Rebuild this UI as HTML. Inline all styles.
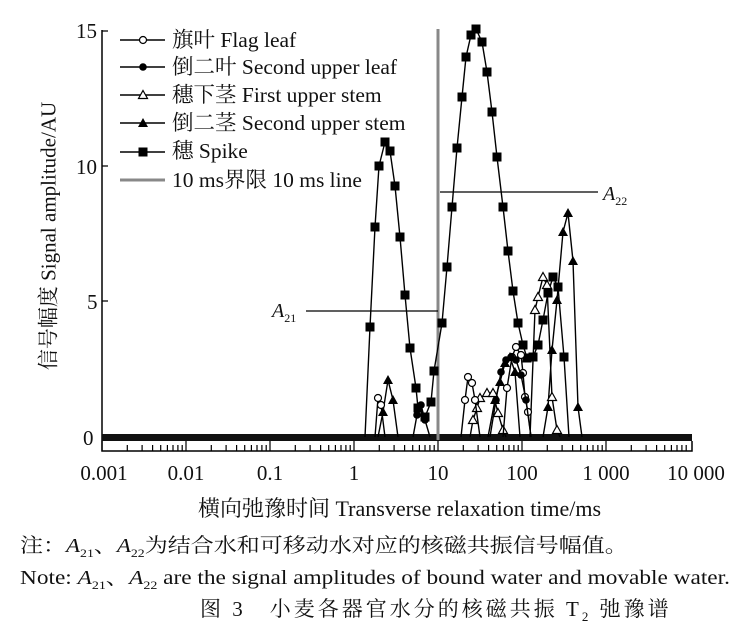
<!DOCTYPE html>
<html><head><meta charset="utf-8"><style>
body{margin:0;background:#fff;width:752px;height:639px;overflow:hidden;position:relative;font-family:"Liberation Serif","Noto Serif CJK SC",serif;color:#111}
.t{position:absolute;white-space:nowrap;line-height:1}
.lg{font-size:21.5px;left:172px}
.tk{font-size:21px;top:463px;transform:translateX(-50%)}
</style></head><body>
<svg width="752" height="639" style="position:absolute;left:0;top:0" xmlns="http://www.w3.org/2000/svg">
<defs>
<marker id="oc" markerUnits="userSpaceOnUse" markerWidth="10" markerHeight="10" refX="5" refY="5"><circle cx="5" cy="5" r="3.5" fill="#fff" stroke="#000" stroke-width="1.2"/></marker>
<marker id="fc" markerUnits="userSpaceOnUse" markerWidth="10" markerHeight="10" refX="5" refY="5"><circle cx="5" cy="5" r="3.8" fill="#000"/></marker>
<marker id="ot" markerUnits="userSpaceOnUse" markerWidth="12" markerHeight="12" refX="6" refY="6"><path d="M6 1.5 L10.5 9.5 L1.5 9.5Z" fill="#fff" stroke="#000" stroke-width="1.2"/></marker>
<marker id="ft" markerUnits="userSpaceOnUse" markerWidth="12" markerHeight="12" refX="6" refY="6"><path d="M6 1 L11 10 L1 10Z" fill="#000"/></marker>
<marker id="sq" markerUnits="userSpaceOnUse" markerWidth="10" markerHeight="10" refX="5" refY="5"><rect x="0.5" y="0.5" width="9" height="9" fill="#000"/></marker>
<g id="dec" stroke="#000" stroke-width="1.2">
<path d="M0 451v-10M25.3 451v-6M40.1 451v-6M50.6 451v-6M58.7 451v-6M65.4 451v-6M71 451v-6M75.9 451v-6M80.2 451v-6"/>
</g>
</defs>
<path d="M102 30V451H692V441" fill="none" stroke="#000" stroke-width="1.5"/>
<path d="M102 437h6M102 301h6M102 166h6M102 31h6" stroke="#000" stroke-width="1.3"/>
<use href="#dec" x="102"/><use href="#dec" x="186"/><use href="#dec" x="270"/><use href="#dec" x="354"/><use href="#dec" x="438"/><use href="#dec" x="522"/><use href="#dec" x="606"/>
<rect x="102" y="434" width="590" height="7" fill="#111"/>
<line x1="438" y1="29" x2="438" y2="440" stroke="#888" stroke-width="3"/>
<line x1="306" y1="311" x2="438" y2="311" stroke="#000" stroke-width="1.3"/>
<line x1="440" y1="192" x2="598" y2="192" stroke="#000" stroke-width="1.3"/>
<g fill="none" stroke="#000" stroke-width="1.4">
<polyline marker-mid="url(#sq)" points="365,437 370,327 375,227 379,166 385,142 390,151 395,186 400,237 405,295 410,348 416,388 418,408 425,417 431,402 434,371 442,323 447,267 452,207 457,148 462,97 466,57 471,35 476,29 482,42 487,72 492,112 497,157 503,207 508,251 513,291 518,323 523,345 527,358 533,357 538,345 543,320 548,293 553,277 558,287 564,357 569,437"/>
<polyline marker-mid="url(#ft)" points="378,437 383,412 388,380 393,400 398,437"/>
<polyline marker-mid="url(#ft)" points="488,437 495,400 500,382 505,363 510,357 515,372 520,437"/>
<polyline marker-mid="url(#ft)" points="543,437 548,407 552,350 557,300 563,232 568,213 573,261 578,407 582,437"/>
<polyline marker-mid="url(#ot)" points="470,437 473,420 477,408 480,398 487,393 493,393 498,413 503,430 506,437"/>
<polyline marker-mid="url(#ot)" points="530,437 535,310 538,297 543,277 547,285 552,397 557,430 560,437"/>
<polyline marker-mid="url(#oc)" points="375,437 378,398 381,405 385,437"/>
<polyline marker-mid="url(#oc)" points="461,437 465,400 468,377 472,383 475,400 480,437"/>
<polyline marker-mid="url(#oc)" points="503,437 507,388 512,357 516,347 521,355 523,373 525,397 528,412 531,437"/>
<polyline marker-mid="url(#fc)" points="413,437 417,415 421,405 425,420 430,437"/>
<polyline marker-mid="url(#fc)" points="490,437 496,400 501,372 506,360 511,357 516,360 521,375 526,400 531,437"/>
</g>
<g stroke="#000" stroke-width="1.4" fill="none">
<polyline points="120,40 143,40 165,40" marker-mid="url(#oc)"/>
<polyline points="120,67 143,67 165,67" marker-mid="url(#fc)"/>
<polyline points="120,95 143,95 165,95" marker-mid="url(#ot)"/>
<polyline points="120,123 143,123 165,123" marker-mid="url(#ft)"/>
<polyline points="120,152 143,152 165,152" marker-mid="url(#sq)"/>
<line x1="120" y1="180" x2="165" y2="180" stroke="#888" stroke-width="3"/>
</g>
</svg>
<div class="t lg" style="top:30px">旗叶 Flag leaf</div>
<div class="t lg" style="top:57px">倒二叶 Second upper leaf</div>
<div class="t lg" style="top:85px">穗下茎 First upper stem</div>
<div class="t lg" style="top:113px">倒二茎 Second upper stem</div>
<div class="t lg" style="top:141px">穗 Spike</div>
<div class="t lg" style="top:170px">10 ms界限 10 ms line</div>
<div class="t" style="left:272px;top:301px;font-size:20px;font-style:italic">A<sub style="font-size:12px;font-style:normal">21</sub></div>
<div class="t" style="left:603px;top:184px;font-size:20px;font-style:italic">A<sub style="font-size:12px;font-style:normal">22</sub></div>
<div class="t" style="left:83px;top:428px;font-size:21px">0</div>
<div class="t" style="left:87px;top:292px;font-size:21px">5</div>
<div class="t" style="left:76px;top:157px;font-size:21px">10</div>
<div class="t" style="left:76px;top:21px;font-size:21px">15</div>
<div class="t" style="left:49px;top:236px;font-size:21px;transform:translate(-50%,-50%) rotate(-90deg)">信号幅度 Signal amplitude/AU</div>
<div class="t tk" style="left:104px">0.001</div>
<div class="t tk" style="left:186px">0.01</div>
<div class="t tk" style="left:270px">0.1</div>
<div class="t tk" style="left:354px">1</div>
<div class="t tk" style="left:438px">10</div>
<div class="t tk" style="left:522px">100</div>
<div class="t tk" style="left:606px">1 000</div>
<div class="t tk" style="left:696px">10 000</div>
<div class="t" style="left:198px;top:498px;font-size:22px">横向弛豫时间 Transverse relaxation time/ms</div>
<div class="t" style="left:20px;top:536px;font-size:20px;transform:scaleX(1.15);transform-origin:0 0">注：<i>A</i><sub style="font-size:12px">21</sub>、<i>A</i><sub style="font-size:12px">22</sub>为结合水和可移动水对应的核磁共振信号幅值。</div>
<div class="t" style="left:20px;top:568px;font-size:20px;transform:scaleX(1.165);transform-origin:0 0">Note: <i>A</i><sub style="font-size:12px">21</sub>、<i>A</i><sub style="font-size:12px">22</sub> are the signal amplitudes of bound water and movable water.</div>
<div class="t" style="left:200px;top:599px;font-size:21px;letter-spacing:3px">图 3　小麦各器官水分的核磁共振 T<sub style="font-size:13px">2</sub> 弛豫谱</div>
</body></html>
